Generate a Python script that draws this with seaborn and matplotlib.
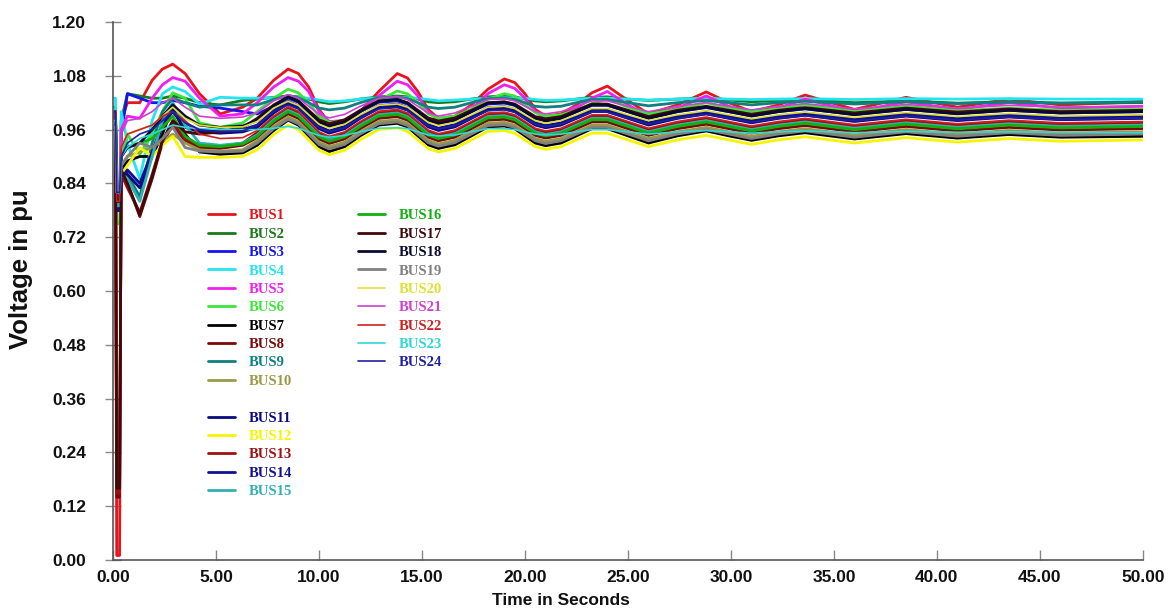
import numpy as np
import pandas as pd
import matplotlib
matplotlib.use("Agg")
import matplotlib.pyplot as plt
import seaborn as sns
from matplotlib.lines import Line2D
from matplotlib.font_manager import FontProperties
from matplotlib.ticker import FormatStrFormatter

# ---------------- data ----------------
time_s = [0.0, 0.12, 0.18, 0.32, 0.4, 0.7, 1.3, 1.9, 2.4, 2.9, 3.5, 4.2, 5.2, 6.3, 7.0, 7.8,
          8.5, 9.0, 9.5, 10.0, 10.5, 11.25, 12.0, 12.9,
          13.8, 14.3, 14.8, 15.3, 15.8, 16.6, 17.4, 18.2,
          19.0, 19.5, 20.0, 20.5, 21.0, 21.75, 22.5, 23.25,
          24.0, 25.0, 26.0, 27.4, 28.8, 29.9, 31.0, 32.3,
          33.6, 36.0, 38.5, 41.0, 43.5, 46.0, 50.0]

bus1 = [1.000, 1.000, 0.010, 0.010, 0.980, 1.020, 1.020, 1.070, 1.095, 1.106, 1.085, 1.040, 0.995, 1.010, 1.030, 1.070,
        1.095, 1.085, 1.055, 1.005, 0.975, 0.975, 1.000, 1.045, 1.085, 1.075, 1.045, 1.005, 0.985, 0.990, 1.015, 1.050,
        1.073, 1.065, 1.040, 1.005, 0.990, 0.995, 1.015, 1.042, 1.057, 1.025, 0.995, 1.015, 1.044, 1.020, 1.000, 1.015,
        1.037, 1.005, 1.032, 1.010, 1.028, 1.015, 1.022]
bus2 = [1.010, 1.010, 0.800, 0.800, 0.980, 1.040, 1.035, 1.030, 1.030, 1.035, 1.030, 1.020, 1.015, 1.025, 1.028, 1.032,
        1.035, 1.033, 1.028, 1.022, 1.018, 1.022, 1.028, 1.033, 1.035, 1.033, 1.028, 1.022, 1.020, 1.022, 1.028, 1.033,
        1.035, 1.033, 1.028, 1.024, 1.022, 1.024, 1.028, 1.032, 1.033, 1.028, 1.025, 1.028, 1.030, 1.026, 1.022, 1.025,
        1.027, 1.020, 1.024, 1.019, 1.022, 1.019, 1.020]
bus3 = [0.980, 0.980, 0.780, 0.780, 0.950, 1.040, 1.030, 1.020, 1.020, 1.025, 1.020, 1.012, 1.008, 1.000, 0.995, 1.012,
        1.030, 1.021, 1.000, 0.979, 0.970, 0.979, 1.000, 1.021, 1.024, 1.017, 1.000, 0.983, 0.976, 0.983, 1.000, 1.017,
        1.019, 1.014, 1.000, 0.986, 0.981, 0.986, 1.000, 1.014, 1.014, 1.000, 0.986, 1.000, 1.009, 1.000, 0.991, 1.000,
        1.006, 0.994, 1.005, 0.996, 1.003, 0.997, 1.000]
bus4 = [1.030, 1.030, 0.820, 0.820, 1.000, 0.930, 0.850, 0.980, 1.040, 1.055, 1.045, 1.017, 1.032, 1.030, 1.030, 1.031,
        1.033, 1.032, 1.030, 1.026, 1.022, 1.024, 1.028, 1.031, 1.032, 1.031, 1.030, 1.027, 1.024, 1.026, 1.028, 1.030,
        1.031, 1.030, 1.030, 1.027, 1.025, 1.026, 1.028, 1.030, 1.030, 1.028, 1.026, 1.028, 1.030, 1.028, 1.027, 1.028,
        1.029, 1.027, 1.029, 1.028, 1.029, 1.028, 1.028]
bus5 = [1.000, 1.000, 0.800, 0.800, 0.960, 0.990, 0.985, 1.030, 1.060, 1.076, 1.068, 1.030, 0.990, 0.995, 1.020, 1.055,
        1.076, 1.068, 1.045, 1.000, 0.978, 0.980, 1.000, 1.035, 1.068, 1.060, 1.035, 1.000, 0.980, 0.985, 1.005, 1.040,
        1.060, 1.052, 1.030, 1.000, 0.985, 0.990, 1.008, 1.030, 1.045, 1.015, 0.990, 1.008, 1.035, 1.012, 0.995, 1.008,
        1.028, 1.000, 1.022, 1.005, 1.020, 1.008, 1.012]
bus6 = [1.000, 1.000, 0.750, 0.750, 0.900, 0.950, 0.905, 0.950, 1.000, 1.042, 1.030, 0.975, 0.965, 0.975, 1.000, 1.030,
        1.050, 1.042, 1.020, 0.990, 0.976, 0.980, 1.000, 1.025, 1.046, 1.040, 1.020, 0.995, 0.985, 0.990, 1.005, 1.028,
        1.040, 1.035, 1.015, 0.998, 0.990, 0.993, 1.003, 1.018, 1.028, 1.010, 0.995, 1.005, 1.020, 1.008, 1.000, 1.006,
        1.015, 1.000, 1.012, 1.002, 1.008, 1.003, 1.005]
bus7 = [0.960, 0.960, 0.800, 0.800, 0.870, 0.890, 0.900, 0.900, 0.950, 1.010, 0.950, 0.910, 0.905, 0.908, 0.925, 0.958,
        0.981, 0.970, 0.946, 0.922, 0.911, 0.922, 0.946, 0.970, 0.974, 0.966, 0.946, 0.926, 0.918, 0.926, 0.946, 0.966,
        0.968, 0.962, 0.946, 0.930, 0.924, 0.930, 0.946, 0.962, 0.962, 0.946, 0.930, 0.946, 0.957, 0.946, 0.936, 0.946,
        0.953, 0.939, 0.951, 0.941, 0.949, 0.943, 0.945]
bus8 = [0.980, 0.980, 0.140, 0.140, 0.865, 0.840, 0.766, 0.850, 0.930, 0.970, 0.935, 0.920, 0.918, 0.925, 0.942, 0.975,
        0.995, 0.985, 0.962, 0.939, 0.929, 0.939, 0.962, 0.985, 0.989, 0.981, 0.962, 0.943, 0.935, 0.943, 0.962, 0.981,
        0.983, 0.977, 0.962, 0.947, 0.941, 0.947, 0.962, 0.977, 0.977, 0.962, 0.947, 0.962, 0.972, 0.962, 0.952, 0.962,
        0.969, 0.955, 0.967, 0.957, 0.965, 0.959, 0.962]
bus9 = [1.000, 1.000, 0.790, 0.790, 0.850, 0.860, 0.810, 0.930, 1.000, 1.030, 1.020, 1.010, 1.015, 1.015, 1.015, 1.027,
        1.036, 1.031, 1.020, 1.008, 1.004, 1.008, 1.020, 1.031, 1.033, 1.029, 1.020, 1.010, 1.007, 1.010, 1.020, 1.029,
        1.030, 1.027, 1.020, 1.012, 1.010, 1.012, 1.020, 1.027, 1.027, 1.020, 1.013, 1.020, 1.025, 1.020, 1.015, 1.020,
        1.023, 1.017, 1.022, 1.018, 1.021, 1.019, 1.022]
bus10 = [0.970, 0.970, 0.820, 0.820, 0.880, 0.900, 0.910, 0.920, 0.935, 0.950, 0.930, 0.915, 0.912, 0.915, 0.935, 0.967,
         0.988, 0.978, 0.955, 0.932, 0.922, 0.932, 0.955, 0.978, 0.982, 0.974, 0.955, 0.936, 0.928, 0.936, 0.955, 0.974,
         0.976, 0.970, 0.955, 0.940, 0.934, 0.940, 0.955, 0.970, 0.970, 0.955, 0.940, 0.955, 0.965, 0.955, 0.945, 0.955,
         0.962, 0.948, 0.960, 0.950, 0.958, 0.952, 0.955]
bus11 = [0.990, 0.990, 0.780, 0.780, 0.880, 0.860, 0.830, 0.900, 0.970, 1.000, 0.965, 0.955, 0.952, 0.955, 0.965, 0.997,
         1.018, 1.008, 0.985, 0.962, 0.952, 0.962, 0.985, 1.008, 1.012, 1.004, 0.985, 0.966, 0.958, 0.966, 0.985, 1.004,
         1.006, 1.000, 0.985, 0.970, 0.964, 0.970, 0.985, 1.000, 1.000, 0.985, 0.970, 0.985, 0.995, 0.985, 0.975, 0.985,
         0.992, 0.978, 0.990, 0.980, 0.988, 0.982, 0.985]
bus12 = [0.950, 0.950, 0.800, 0.800, 0.860, 0.880, 0.920, 0.900, 0.925, 0.945, 0.900, 0.898, 0.898, 0.900, 0.915, 0.949,
         0.970, 0.960, 0.937, 0.914, 0.904, 0.914, 0.937, 0.960, 0.964, 0.956, 0.937, 0.918, 0.910, 0.918, 0.937, 0.956,
         0.958, 0.952, 0.937, 0.922, 0.916, 0.922, 0.937, 0.952, 0.952, 0.937, 0.922, 0.937, 0.947, 0.937, 0.927, 0.937,
         0.944, 0.930, 0.942, 0.932, 0.940, 0.934, 0.937]
bus13 = [0.985, 0.985, 0.150, 0.150, 0.860, 0.830, 0.775, 0.860, 0.935, 0.975, 0.940, 0.925, 0.922, 0.930, 0.953, 0.987,
         1.008, 0.998, 0.975, 0.952, 0.942, 0.952, 0.975, 0.998, 1.002, 0.994, 0.975, 0.956, 0.948, 0.956, 0.975, 0.994,
         0.996, 0.990, 0.975, 0.960, 0.954, 0.960, 0.975, 0.990, 0.990, 0.975, 0.960, 0.975, 0.985, 0.975, 0.965, 0.975,
         0.982, 0.968, 0.980, 0.970, 0.978, 0.972, 0.975]
bus14 = [0.995, 0.995, 0.780, 0.780, 0.850, 0.870, 0.840, 0.910, 0.975, 1.010, 0.975, 0.958, 0.956, 0.960, 0.970, 1.002,
         1.023, 1.013, 0.990, 0.967, 0.957, 0.967, 0.990, 1.013, 1.017, 1.009, 0.990, 0.971, 0.963, 0.971, 0.990, 1.009,
         1.011, 1.005, 0.990, 0.975, 0.969, 0.975, 0.990, 1.005, 1.005, 0.990, 0.975, 0.990, 1.000, 0.990, 0.980, 0.990,
         0.997, 0.983, 0.995, 0.985, 0.993, 0.987, 0.990]
bus15 = [1.000, 1.000, 0.790, 0.790, 0.860, 0.850, 0.800, 0.900, 0.980, 1.020, 0.970, 0.930, 0.925, 0.930, 0.948, 0.982,
         1.003, 0.993, 0.970, 0.947, 0.937, 0.947, 0.970, 0.993, 0.997, 0.989, 0.970, 0.951, 0.943, 0.951, 0.970, 0.989,
         0.991, 0.985, 0.970, 0.955, 0.949, 0.955, 0.970, 0.985, 0.985, 0.970, 0.955, 0.970, 0.980, 0.970, 0.960, 0.970,
         0.977, 0.963, 0.975, 0.965, 0.973, 0.967, 0.970]
bus16 = [0.990, 0.990, 0.800, 0.800, 0.900, 0.920, 0.930, 0.940, 0.965, 0.990, 0.945, 0.925, 0.922, 0.928, 0.945, 0.979,
         1.000, 0.990, 0.967, 0.944, 0.934, 0.944, 0.967, 0.990, 0.994, 0.986, 0.967, 0.948, 0.940, 0.948, 0.967, 0.986,
         0.988, 0.982, 0.967, 0.952, 0.946, 0.952, 0.967, 0.982, 0.982, 0.967, 0.952, 0.967, 0.977, 0.967, 0.957, 0.967,
         0.974, 0.960, 0.972, 0.962, 0.970, 0.964, 0.967]
bus17 = [0.990, 0.990, 0.160, 0.160, 0.870, 0.840, 0.770, 0.855, 0.935, 0.980, 0.955, 0.950, 0.955, 0.965, 0.985, 1.015,
         1.033, 1.024, 1.003, 0.982, 0.973, 0.982, 1.003, 1.024, 1.027, 1.020, 1.003, 0.986, 0.979, 0.986, 1.003, 1.020,
         1.022, 1.017, 1.003, 0.989, 0.984, 0.989, 1.003, 1.017, 1.017, 1.003, 0.989, 1.003, 1.012, 1.003, 0.994, 1.003,
         1.009, 0.997, 1.008, 0.999, 1.006, 1.000, 1.003]
bus18 = [1.000, 1.000, 0.800, 0.800, 0.900, 0.920, 0.930, 0.960, 0.990, 1.015, 0.990, 0.970, 0.965, 0.968, 0.980, 1.012,
         1.033, 1.023, 1.000, 0.977, 0.967, 0.977, 1.000, 1.023, 1.027, 1.019, 1.000, 0.981, 0.973, 0.981, 1.000, 1.019,
         1.021, 1.015, 1.000, 0.985, 0.979, 0.985, 1.000, 1.015, 1.015, 1.000, 0.985, 1.000, 1.010, 1.000, 0.990, 1.000,
         1.007, 0.993, 1.005, 0.995, 1.003, 0.997, 1.000]
bus19 = [0.965, 0.965, 0.820, 0.820, 0.880, 0.900, 0.930, 0.920, 0.940, 0.965, 0.920, 0.912, 0.910, 0.912, 0.930, 0.962,
         0.983, 0.973, 0.950, 0.927, 0.917, 0.927, 0.950, 0.973, 0.977, 0.969, 0.950, 0.931, 0.923, 0.931, 0.950, 0.969,
         0.971, 0.965, 0.950, 0.935, 0.929, 0.935, 0.950, 0.965, 0.965, 0.950, 0.935, 0.950, 0.960, 0.950, 0.940, 0.950,
         0.957, 0.943, 0.955, 0.945, 0.953, 0.947, 0.950]
bus20 = [1.000, 1.000, 0.820, 0.820, 0.920, 0.950, 0.960, 0.970, 0.990, 1.010, 0.985, 0.970, 0.965, 0.966, 0.978, 1.008,
         1.023, 1.014, 0.993, 0.972, 0.963, 0.972, 0.993, 1.014, 1.017, 1.010, 0.993, 0.976, 0.969, 0.976, 0.993, 1.010,
         1.012, 1.007, 0.993, 0.980, 0.974, 0.980, 0.993, 1.007, 1.007, 0.993, 0.980, 0.993, 1.002, 0.993, 0.984, 0.993,
         0.999, 0.987, 0.998, 0.989, 0.996, 0.990, 0.993]
bus21 = [1.000, 1.000, 0.820, 0.820, 0.950, 0.980, 0.985, 1.000, 1.020, 1.030, 1.010, 0.990, 0.985, 0.988, 0.998, 1.024,
         1.038, 1.030, 1.012, 0.994, 0.986, 0.994, 1.012, 1.030, 1.034, 1.027, 1.012, 0.997, 0.990, 0.997, 1.012, 1.027,
         1.029, 1.024, 1.012, 1.000, 0.995, 1.000, 1.012, 1.024, 1.024, 1.012, 1.000, 1.012, 1.020, 1.012, 1.004, 1.012,
         1.018, 1.006, 1.016, 1.008, 1.014, 1.010, 1.012]
bus22 = [1.000, 1.000, 0.800, 0.800, 0.920, 0.950, 0.960, 0.970, 0.990, 1.000, 0.980, 0.950, 0.940, 0.942, 0.958, 0.990,
         1.011, 1.001, 0.978, 0.955, 0.945, 0.955, 0.978, 1.001, 1.005, 0.997, 0.978, 0.959, 0.951, 0.959, 0.978, 0.997,
         0.999, 0.993, 0.978, 0.963, 0.957, 0.963, 0.978, 0.993, 0.993, 0.978, 0.963, 0.978, 0.988, 0.978, 0.968, 0.978,
         0.985, 0.971, 0.983, 0.973, 0.981, 0.975, 0.978]
bus23 = [0.980, 0.980, 0.820, 0.820, 0.900, 0.920, 0.940, 0.950, 0.960, 0.970, 0.965, 0.962, 0.960, 0.960, 0.960, 0.963,
         0.967, 0.963, 0.955, 0.947, 0.943, 0.947, 0.955, 0.963, 0.964, 0.962, 0.955, 0.948, 0.946, 0.948, 0.955, 0.962,
         0.962, 0.960, 0.955, 0.950, 0.948, 0.950, 0.955, 0.960, 0.960, 0.955, 0.950, 0.955, 0.958, 0.955, 0.952, 0.955,
         0.957, 0.953, 0.956, 0.954, 0.955, 0.954, 0.953]
bus24 = [1.000, 1.000, 0.820, 0.820, 0.900, 0.930, 0.950, 0.960, 0.980, 1.000, 0.975, 0.960, 0.955, 0.957, 0.970, 1.000,
         1.015, 1.006, 0.985, 0.964, 0.955, 0.964, 0.985, 1.006, 1.009, 1.002, 0.985, 0.968, 0.961, 0.968, 0.985, 1.002,
         1.004, 0.999, 0.985, 0.972, 0.966, 0.972, 0.985, 0.999, 0.999, 0.985, 0.972, 0.985, 0.994, 0.985, 0.976, 0.985,
         0.991, 0.979, 0.990, 0.981, 0.988, 0.982, 0.985]

bus_names = ["BUS%d" % i for i in range(1, 25)]
bus_colors = ["#e8141b", "#1a7a1a", "#1414f0", "#22e5f0", "#f01ef0", "#3ae63a", "#000000", "#7a0a0a",
              "#0f8080", "#9a9a45", "#0a0a80", "#f5f500", "#a01010", "#101090", "#30b0b0", "#10b010",
              "#400a0a", "#0a0a30", "#808080", "#e0e030", "#d040d0", "#d02020", "#30d8d8", "#2020a0"]
bus_widths = [2.0] * 19 + [1.2] * 5

series = [bus1, bus2, bus3, bus4, bus5, bus6, bus7, bus8, bus9, bus10, bus11, bus12,
          bus13, bus14, bus15, bus16, bus17, bus18, bus19, bus20, bus21, bus22, bus23, bus24]
for name, s in zip(bus_names, series):
    assert len(s) == len(time_s), (name, len(s), len(time_s))

df = pd.DataFrame({
    "Time": np.tile(time_s, len(series)),
    "Voltage": np.concatenate([np.asarray(s, float) for s in series]),
    "Bus": np.repeat(bus_names, len(time_s)),
})

# ---------------- style ----------------
sns.set_theme(style="white")
plt.rcParams["font.family"] = ["Liberation Sans", "DejaVu Sans"]
plt.rcParams["font.weight"] = "bold"

fig = plt.figure(figsize=(11.71, 6.09), dpi=100)
ax = fig.add_axes([0.0965, 0.0805, 0.8795, 0.8834])

sns.lineplot(data=df, x="Time", y="Voltage", hue="Bus", hue_order=bus_names,
             palette=dict(zip(bus_names, bus_colors)), size="Bus", size_order=bus_names,
             sizes=dict(zip(bus_names, bus_widths)), estimator=None, sort=False,
             legend=False, ax=ax)

ax.set_xlim(0, 50)
ax.set_ylim(0, 1.2)
ax.set_xticks(np.arange(0, 50.01, 5))
ax.set_yticks(np.arange(0, 1.2001, 0.12))
ax.xaxis.set_major_formatter(FormatStrFormatter("%.2f"))
ax.yaxis.set_major_formatter(FormatStrFormatter("%.2f"))

for side in ("top", "right"):
    ax.spines[side].set_visible(False)
for side in ("left", "bottom"):
    ax.spines[side].set_color("#555555")
    ax.spines[side].set_linewidth(1.2)

ax.tick_params(axis="y", left=True, direction="inout", length=11.5, width=1.0,
               color="#888888", pad=13.5, labelsize=12.5)
ax.tick_params(axis="x", bottom=True, direction="in", length=7, width=1.0,
               color="#888888", pad=7, labelsize=12.5)
for lab in ax.get_xticklabels() + ax.get_yticklabels():
    lab.set_fontweight("bold")
    lab.set_color("#111111")

ax.set_xlabel("Time in Seconds", fontsize=12.5, fontweight="bold", color="#111111")
ax.set_ylabel("Voltage in pu", fontsize=18.5, fontweight="bold", color="#111111")
ax.xaxis.set_label_coords(0.435, -0.062)
ax.yaxis.set_label_coords(-0.078, 0.54)

# ---------------- legends ----------------
handles = [Line2D([], [], color=c, lw=w) for c, w in zip(bus_colors, bus_widths)]
legfont = FontProperties(family=["Liberation Serif", "DejaVu Serif"], weight="bold", size=10.5)
common = dict(loc="upper left", frameon=False, prop=legfont, labelcolor="linecolor",
              handlelength=1.85, handletextpad=0.95, labelspacing=0.355,
              borderpad=0, borderaxespad=0)

leg1 = ax.legend(handles[0:10], bus_names[0:10], bbox_to_anchor=(0.0922, 0.652), **common)
ax.add_artist(leg1)
leg3 = ax.legend(handles[10:15], bus_names[10:15], bbox_to_anchor=(0.0922, 0.276), **common)
ax.add_artist(leg3)
leg2 = ax.legend(handles[15:24], bus_names[15:24], bbox_to_anchor=(0.238, 0.652), **common)

fig.savefig("out.png", dpi=100, facecolor="white")
